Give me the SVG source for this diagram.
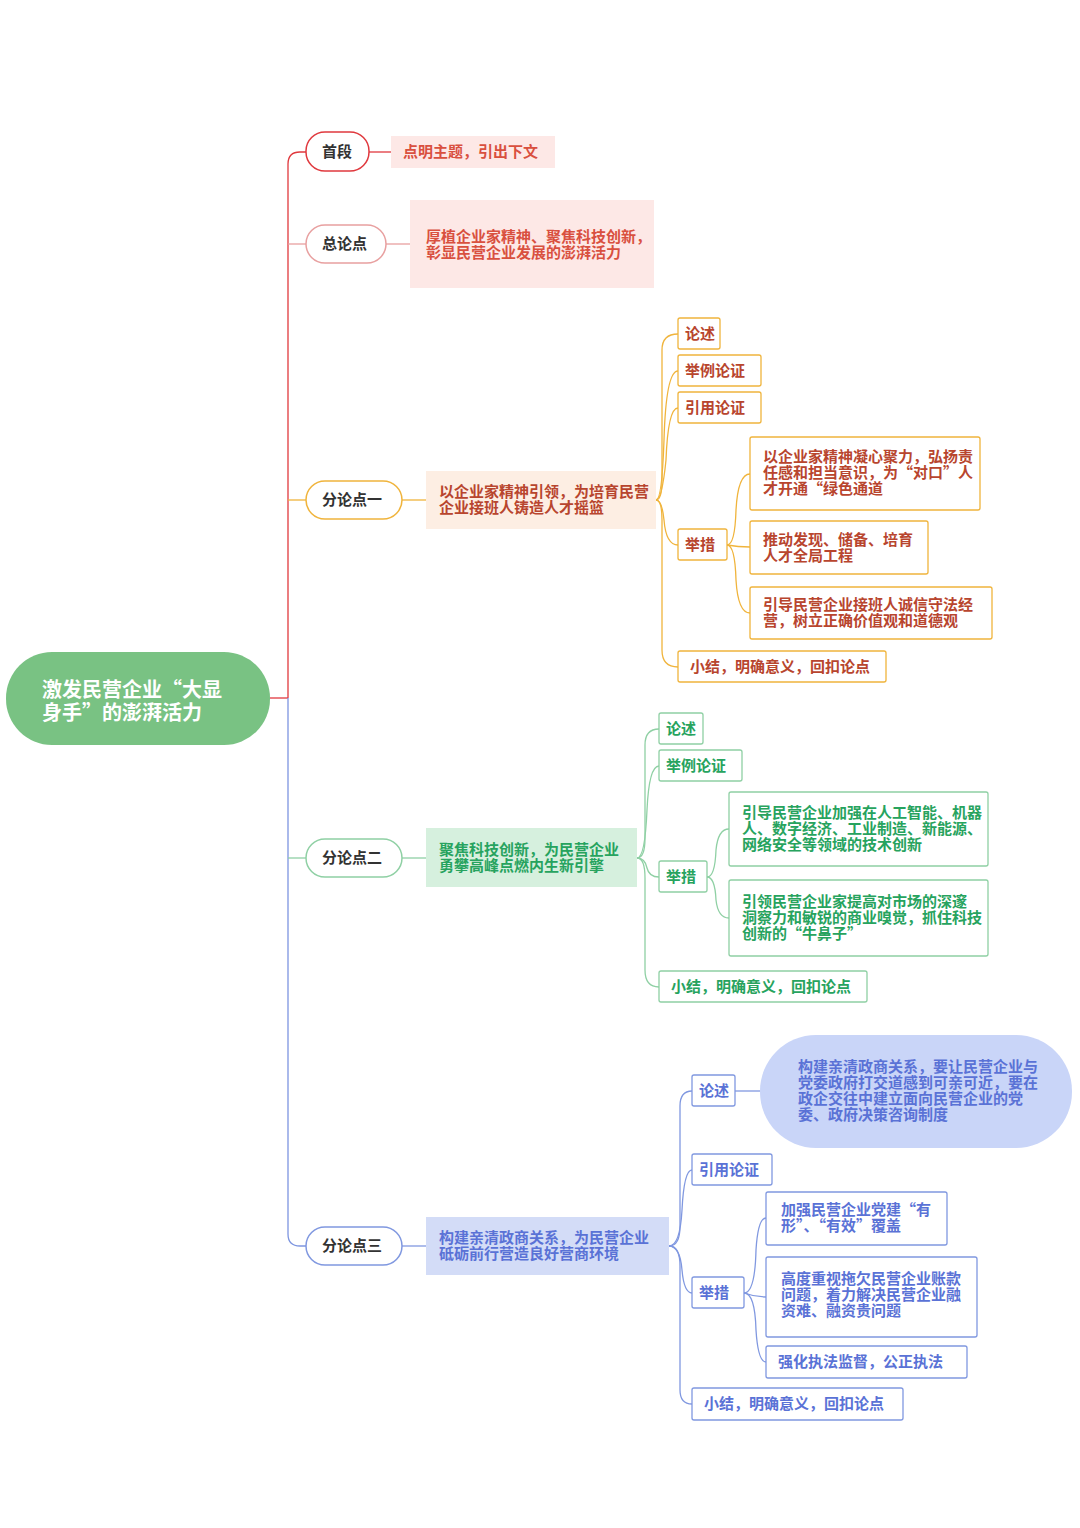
<svg xmlns="http://www.w3.org/2000/svg" width="1080" height="1528" viewBox="0 0 1080 1528">
<style>
text{font-family:"Noto Sans CJK SC","Noto Sans",sans-serif;font-weight:bold;font-size:15px}
.l1{fill:#fff;stroke-width:1.5}
.k{fill:#333;font-size:15px}
.r{fill:#d9503f}.o{fill:#b8452e}.g{fill:#27a35e}.b{fill:#5a72d6}
.bo{fill:#fff;stroke:#f0b43c;stroke-width:1.3}
.bg{fill:#fff;stroke:#8fd0a4;stroke-width:1.3}
.bb{fill:#fff;stroke:#8098e0;stroke-width:1.3}
path{fill:none;stroke-width:1.3}
</style>
<rect width="1080" height="1528" fill="#fff"/>
<g id="connectors">
<path d="M270 698H288" stroke="#e0393e"/>
<path d="M288 698V164Q288 152 300 152H306" stroke="#e0393e" stroke-width="1.8"/>
<path d="M288 244H306" stroke="#e8a0a0"/>
<path d="M288 500H306" stroke="#f0b43c"/>
<path d="M288 698V1234Q288 1246 300 1246H306" stroke="#7d95e0" stroke-width="1.6"/>
<path d="M288 858H306" stroke="#8fd0a4"/>
<path d="M369 152H391" stroke="#e0393e"/>
<path d="M386 244H410" stroke="#e8a0a0"/>
<path d="M402 500H426" stroke="#f0b43c"/>
<path d="M402 858H426" stroke="#8fd0a4"/>
<path d="M402 1246H426" stroke="#8098e0"/>
<g stroke="#f0b43c">
<path d="M656 500Q662 500 662 480V350Q662 334 678 334"/>
<path d="M656 500Q662 500 664 440Q666 371 678 371"/>
<path d="M656 500Q662 500 666 460Q668 408 678 408"/>
<path d="M656 500Q662 500 664 520Q666 545 678 545"/>
<path d="M656 500Q662 500 662 520V650Q662 667 678 667"/>
<path d="M727 545Q735 545 736 510Q738 474 750 474"/>
<path d="M727 545Q738 547 750 547"/>
<path d="M727 545Q735 545 736 580Q738 613 750 613"/>
</g>
<g stroke="#8fd0a4">
<path d="M637 858Q645 858 645 838V745Q645 729 659 729"/>
<path d="M637 858Q645 858 647 810Q649 766 659 766"/>
<path d="M637 858Q645 858 647 868Q649 877 659 877"/>
<path d="M637 858Q645 858 645 878V970Q645 987 659 987"/>
<path d="M707 877Q715 877 716 850Q718 829 729 829"/>
<path d="M707 877Q715 877 716 900Q718 918 729 918"/>
</g>
<g stroke="#8098e0">
<path d="M669 1246Q680 1246 680 1226V1106Q680 1091 692 1091"/>
<path d="M669 1246Q680 1246 682 1210Q684 1170 692 1170"/>
<path d="M669 1246Q680 1246 682 1270Q684 1293 692 1293"/>
<path d="M669 1246Q680 1246 680 1266V1390Q680 1404 692 1404"/>
<path d="M735 1091H760"/>
<path d="M744 1293Q755 1293 756 1250Q758 1218 766 1218"/>
<path d="M744 1293Q755 1297 766 1297"/>
<path d="M744 1293Q755 1293 756 1330Q758 1362 766 1362"/>
</g>
</g>
<g id="root"><rect x="6" y="652" width="264" height="93" rx="46" fill="#79c283"/>
<text x="42" y="697" fill="#fff" style="font-size:20px">激发民营企业“大显</text>
<text x="42" y="720" fill="#fff" style="font-size:20px">身手”的澎湃活力</text></g>
<g id="n1"><rect class="l1" x="306" y="132" width="63" height="39" rx="19" stroke="#e0393e"/><text class="k" x="322" y="157">首段</text></g>
<g id="n2"><rect class="l1" x="306" y="225" width="80" height="38" rx="19" stroke="#e8a0a0"/><text class="k" x="322" y="249">总论点</text></g>
<g id="n3"><rect class="l1" x="306" y="481" width="96" height="38" rx="19" stroke="#f0b43c"/><text class="k" x="322" y="505">分论点一</text></g>
<g id="n4"><rect class="l1" x="306" y="839" width="96" height="38" rx="19" stroke="#8fd0a4"/><text class="k" x="322" y="863">分论点二</text></g>
<g id="n5"><rect class="l1" x="306" y="1227" width="96" height="38" rx="19" stroke="#8098e0"/><text class="k" x="322" y="1251">分论点三</text></g>
<g id="t1"><rect x="391" y="136" width="164" height="32" fill="#fde8e6"/><text class="r" x="403" y="157">点明主题，引出下文</text></g>
<g id="t2"><rect x="410" y="200" width="244" height="88" fill="#fde8e6"/><text class="r" x="426" y="242">厚植企业家精神、聚焦科技创新，</text><text class="r" x="426" y="258">彰显民营企业发展的澎湃活力</text></g>
<g id="t3"><rect x="426" y="471" width="230" height="58" fill="#fdeee3"/><text class="o" x="439" y="497">以企业家精神引领，为培育民营</text><text class="o" x="439" y="513">企业接班人铸造人才摇篮</text></g>
<g id="t4"><rect x="426" y="828" width="211" height="59" fill="#d6f0de"/><text class="g" x="439" y="855">聚焦科技创新，为民营企业</text><text class="g" x="439" y="871">勇攀高峰点燃内生新引擎</text></g>
<g id="t5"><rect x="426" y="1217" width="243" height="58" fill="#d3dcf7"/><text class="b" x="439" y="1243">构建亲清政商关系，为民营企业</text><text class="b" x="439" y="1259">砥砺前行营造良好营商环境</text></g>
<g id="o1"><rect class="bo" x="678" y="318" width="42" height="31" rx="2"/><text class="o" x="685" y="339">论述</text></g>
<g id="o2"><rect class="bo" x="678" y="355" width="83" height="31" rx="2"/><text class="o" x="685" y="376">举例论证</text></g>
<g id="o3"><rect class="bo" x="678" y="392" width="83" height="31" rx="2"/><text class="o" x="685" y="413">引用论证</text></g>
<g id="o4"><rect class="bo" x="678" y="529" width="49" height="31" rx="2"/><text class="o" x="685" y="550">举措</text></g>
<g id="o5"><rect class="bo" x="678" y="651" width="208" height="31" rx="2"/><text class="o" x="690" y="672">小结，明确意义，回扣论点</text></g>
<g id="o6"><rect class="bo" x="750" y="437" width="230" height="73" rx="2"/><text class="o" x="763" y="462">以企业家精神凝心聚力，弘扬责</text><text class="o" x="763" y="478">任感和担当意识，为“对口”人</text><text class="o" x="763" y="494">才开通“绿色通道</text></g>
<g id="o7"><rect class="bo" x="750" y="521" width="178" height="53" rx="2"/><text class="o" x="763" y="545">推动发现、储备、培育</text><text class="o" x="763" y="561">人才全局工程</text></g>
<g id="o8"><rect class="bo" x="750" y="587" width="242" height="52" rx="2"/><text class="o" x="763" y="610">引导民营企业接班人诚信守法经</text><text class="o" x="763" y="626">营，树立正确价值观和道德观</text></g>
<g id="g1"><rect class="bg" x="659" y="713" width="44" height="31" rx="2"/><text class="g" x="666" y="734">论述</text></g>
<g id="g2"><rect class="bg" x="659" y="750" width="83" height="31" rx="2"/><text class="g" x="666" y="771">举例论证</text></g>
<g id="g3"><rect class="bg" x="659" y="861" width="48" height="31" rx="2"/><text class="g" x="666" y="882">举措</text></g>
<g id="g4"><rect class="bg" x="659" y="971" width="208" height="31" rx="2"/><text class="g" x="671" y="992">小结，明确意义，回扣论点</text></g>
<g id="g5"><rect class="bg" x="729" y="792" width="259" height="74" rx="2"/><text class="g" x="742" y="818">引导民营企业加强在人工智能、机器</text><text class="g" x="742" y="834">人、数字经济、工业制造、新能源、</text><text class="g" x="742" y="850">网络安全等领域的技术创新</text></g>
<g id="g6"><rect class="bg" x="729" y="880" width="259" height="76" rx="2"/><text class="g" x="742" y="907">引领民营企业家提高对市场的深邃</text><text class="g" x="742" y="923">洞察力和敏锐的商业嗅觉，抓住科技</text><text class="g" x="742" y="939">创新的“牛鼻子”</text></g>
<g id="b1"><rect class="bb" x="692" y="1075" width="43" height="31" rx="2"/><text class="b" x="699" y="1096">论述</text></g>
<g id="b2"><rect x="760" y="1035" width="312" height="113" rx="56" fill="#c9d5f8"/><text class="b" x="798" y="1072">构建亲清政商关系，要让民营企业与</text><text class="b" x="798" y="1088">党委政府打交道感到可亲可近，要在</text><text class="b" x="798" y="1104">政企交往中建立面向民营企业的党</text><text class="b" x="798" y="1120">委、政府决策咨询制度</text></g>
<g id="b3"><rect class="bb" x="692" y="1154" width="80" height="31" rx="2"/><text class="b" x="699" y="1175">引用论证</text></g>
<g id="b4"><rect class="bb" x="692" y="1277" width="52" height="31" rx="2"/><text class="b" x="699" y="1298">举措</text></g>
<g id="b5"><rect class="bb" x="692" y="1388" width="211" height="32" rx="2"/><text class="b" x="704" y="1409">小结，明确意义，回扣论点</text></g>
<g id="b6"><rect class="bb" x="766" y="1192" width="181" height="53" rx="2"/><text class="b" x="781" y="1215">加强民营企业党建“有</text><text class="b" x="781" y="1231">形”、“有效”覆盖</text></g>
<g id="b7"><rect class="bb" x="766" y="1257" width="211" height="80" rx="2"/><text class="b" x="781" y="1284">高度重视拖欠民营企业账款</text><text class="b" x="781" y="1300">问题，着力解决民营企业融</text><text class="b" x="781" y="1316">资难、融资贵问题</text></g>
<g id="b8"><rect class="bb" x="766" y="1346" width="201" height="32" rx="2"/><text class="b" x="778" y="1367">强化执法监督，公正执法</text></g>
</svg>
